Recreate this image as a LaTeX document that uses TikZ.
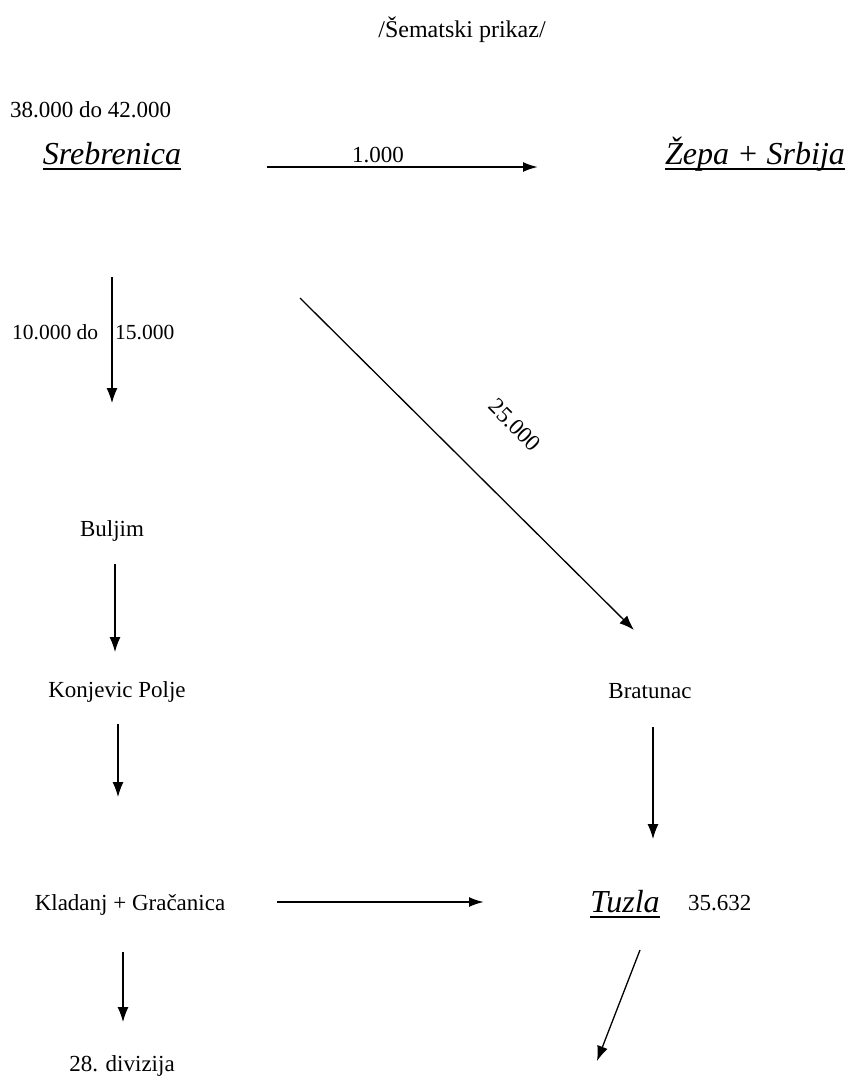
\documentclass[tikz,border=0pt]{standalone}
\usepackage{fontspec}
\setmainfont{Liberation Serif}
\usetikzlibrary{arrows.meta}
\tikzset{
  txt/.style={font=\fontsize{23}{26}\selectfont, inner sep=0pt, anchor=base},
  place/.style={font=\fontsize{32}{36}\selectfont\itshape, inner sep=0pt, anchor=base},
  uline/.style={line width=1.8pt},
  flow/.style={line width=1.1pt, -{Latex[length=15pt,width=11pt]}},
  bold flow/.style={line width=2pt, -{Latex[length=15pt,width=10pt]}}
}
\begin{document}
\begin{tikzpicture}[x=1pt,y=-1pt]
\useasboundingbox (0,0) rectangle (852,1080);
\fill[white] (0,0) rectangle (852,1080);

% texts
\node[txt, font=\fontsize{24}{27}\selectfont] (title) at (462,37) {/Šematski prikaz/};
\node[txt, anchor=base west] (total) at (10,117) {38.000 do 42.000};
\node[place] (srebrenica) at (112,164) {Srebrenica};
\node[place] (zepa) at (755,164) {Žepa + Srbija};
\node[txt] (buljim) at (112,536) {Buljim};
\node[txt] (konjevic) at (117,697) {Konjevic Polje};
\node[txt] (kladanj) at (130,910) {Kladanj + Gračanica};
\node[txt] (divizija) at (122,1071) {28. divizija};
\node[txt] (bratunac) at (650,698) {Bratunac};
\node[place] (tuzla) at (625,912) {Tuzla};
\node[txt, anchor=base west] (tuzlanum) at (688,910) {35.632};

% underlines
\draw[uline] ([yshift=-5pt]srebrenica.base west) -- ([yshift=-5pt]srebrenica.base east);
\draw[uline] ([yshift=-5pt]zepa.base west) -- ([yshift=-5pt]zepa.base east);
\draw[uline] ([yshift=-5pt]tuzla.base west) -- ([yshift=-5pt]tuzla.base east);

% connector end points
\coordinate (a1s) at (267,167);
\coordinate (a1e) at (538,167);
\coordinate (v1s) at (112,277);
\coordinate (v1e) at (112,403);
\coordinate (d1s) at (300,298);
\coordinate (d1e) at (634,630);
\coordinate (v2s) at (115,564);
\coordinate (v2e) at (115,652);
\coordinate (v3s) at (118,724);
\coordinate (v3e) at (118,797);
\coordinate (v5s) at (653,727);
\coordinate (v5e) at (653,839);
\coordinate (h2s) at (277,902);
\coordinate (h2e) at (484,902);
\coordinate (v4s) at (123,952);
\coordinate (v4e) at (123,1022);
\coordinate (d2s) at (640,950);
\coordinate (d2e) at (597,1061);

% connectors
\draw[bold flow] (a1s) -- (a1e);
\node[txt] (n1000) at (378,162) {1.000};
\draw[flow] (v1s) -- (v1e);
\node[txt, anchor=base west, font=\fontsize{21.5}{24}\selectfont] (n10000) at (12,339) {10.000 do\hspace{17pt}15.000};
\draw[flow, line width=1.3pt] (d1s) -- (d1e);
\node[txt, anchor=center, rotate=-45] (n25000) at (515,425) {25.000};
\draw[flow] (v2s) -- (v2e);
\draw[flow] (v3s) -- (v3e);
\draw[flow] (v5s) -- (v5e);
\draw[bold flow] (h2s) -- (h2e);
\draw[flow] (v4s) -- (v4e);
\draw[flow, line width=1.3pt] (d2s) -- (d2e);
\end{tikzpicture}
\end{document}
